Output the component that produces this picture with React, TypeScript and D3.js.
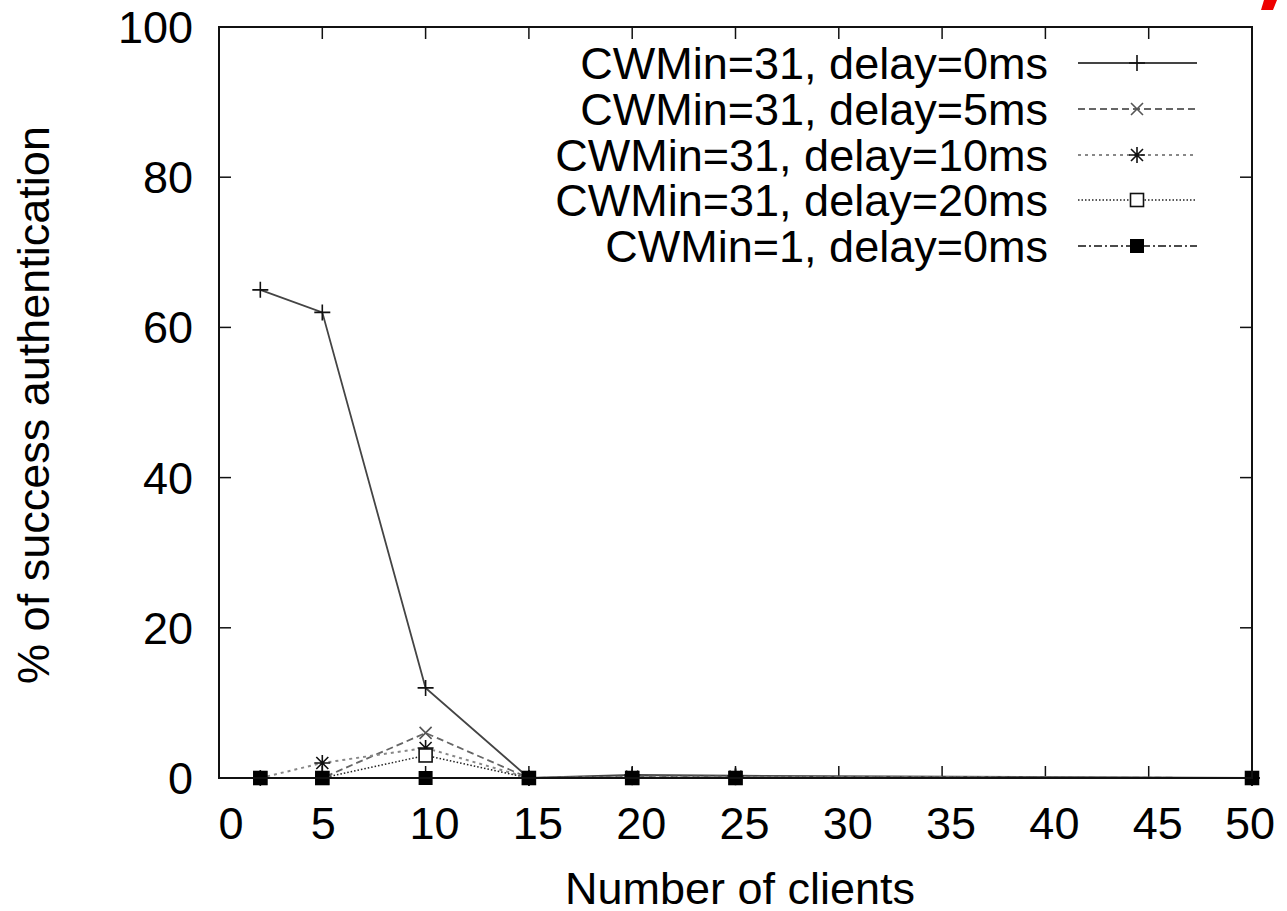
import React from "react";
import * as d3 from "d3";

const clients = [2, 5, 10, 15, 20, 25, 50];
const seriesNames = [
  "CWMin=31, delay=0ms",
  "CWMin=31, delay=5ms",
  "CWMin=31, delay=10ms",
  "CWMin=31, delay=20ms",
  "CWMin=1, delay=0ms",
];
const s1 = [65, 62, 12, 0, 0.4, 0.3, 0];
const s2 = [0, 0, 6, 0, 0.2, 0.2, 0];
const s3 = [0, 2, 4, 0, 0.1, 0.1, 0];
const s4 = [0, 0, 3, 0, 0, 0, 0];
const s5 = [0, 0, 0, 0, 0, 0, 0];
const xTicks = [0, 5, 10, 15, 20, 25, 30, 35, 40, 45, 50];
const yTicks = [0, 20, 40, 60, 80, 100];

const W = 1287, H = 911;
const L = 219, R = 1252, T = 27, B = 778;

type Style = { color: string; dash: string; width: number; marker: string };
const styles: Style[] = [
  { color: "#444", dash: "none", width: 1.8, marker: "plus" },
  { color: "#666", dash: "7,4", width: 1.8, marker: "cross" },
  { color: "#888", dash: "3,4", width: 2, marker: "star" },
  { color: "#222", dash: "1.5,2", width: 1.5, marker: "box" },
  { color: "#111", dash: "8,3,2,3", width: 1.5, marker: "fbox" },
];

function Marker({ x, y, type }: { x: number; y: number; type: string }) {
  const s = 8;
  const st = { stroke: "#111", strokeWidth: 1.6, fill: "none" };
  if (type === "plus")
    return <path d={`M${x - s},${y}H${x + s}M${x},${y - s}V${y + s}`} {...st} />;
  if (type === "cross")
    return <path d={`M${x - 6},${y - 6}L${x + 6},${y + 6}M${x - 6},${y + 6}L${x + 6},${y - 6}`} {...st} stroke="#555" />;
  if (type === "star")
    return (
      <path
        d={`M${x - s},${y}H${x + s}M${x},${y - s}V${y + s}M${x - 6},${y - 6}L${x + 6},${y + 6}M${x - 6},${y + 6}L${x + 6},${y - 6}`}
        {...st}
      />
    );
  if (type === "box")
    return <rect x={x - 6.5} y={y - 6.5} width={13} height={13} fill="#fff" stroke="#111" strokeWidth={1.6} />;
  return <rect x={x - 7} y={y - 7} width={14} height={14} fill="#000" />;
}

const xLabelShift: Record<number, number> = { 0: 12, 5: 1, 50: -2 };

export default function App() {
  const x = d3.scaleLinear().domain([0, 50]).range([L, R]);
  const y = d3.scaleLinear().domain([0, 100]).range([B, T]);
  const data = [s1, s2, s3, s4, s5];
  const line = d3
    .line<number>()
    .x((_, i) => x(clients[i]))
    .y((d) => y(d));
  const font = "'Liberation Sans', Arial, sans-serif";
  const tl = 12;
  const legY = [63, 109, 155, 200, 246];
  const fs = 45;
  return (
    <svg width={W} height={H} style={{ position: "absolute", left: 0, top: 0, background: "#fff" }} fontFamily={font}>
      <rect width={W} height={H} fill="#fff" />
      {xTicks.map((t) => (
        <g key={"x" + t}>
          <line x1={x(t)} x2={x(t)} y1={B} y2={B - tl} stroke="#111" strokeWidth={1.5} />
          <line x1={x(t)} x2={x(t)} y1={T} y2={T + tl} stroke="#111" strokeWidth={1.5} />
          <text x={x(t) + (xLabelShift[t] ?? 9)} y={839} fontSize={fs} textAnchor="middle">
            {t}
          </text>
        </g>
      ))}
      {yTicks.map((t) => (
        <g key={"y" + t}>
          <line x1={L} x2={L + tl} y1={y(t)} y2={y(t)} stroke="#111" strokeWidth={1.5} />
          <line x1={R} x2={R - tl} y1={y(t)} y2={y(t)} stroke="#111" strokeWidth={1.5} />
          <text x={193} y={y(t) + 16} fontSize={fs} textAnchor="end">
            {t}
          </text>
        </g>
      ))}
      {data.map((d, i) => (
        <path key={"l" + i} d={line(d) || ""} fill="none" stroke={styles[i].color} strokeWidth={styles[i].width} strokeDasharray={styles[i].dash} />
      ))}
      {data.map((d, i) =>
        d.map((v, j) => <Marker key={`m${i}-${j}`} x={x(clients[j])} y={y(v)} type={styles[i].marker} />)
      )}
      <rect x={L} y={T} width={R - L} height={B - T} fill="none" stroke="#111" strokeWidth={2} />
      {seriesNames.map((n, i) => (
        <g key={"lg" + i}>
          <text x={1048} y={legY[i] + 16} fontSize={fs} textAnchor="end">
            {n}
          </text>
          <line x1={1078} x2={1197} y1={legY[i]} y2={legY[i]} stroke={styles[i].color} strokeWidth={styles[i].width} strokeDasharray={styles[i].dash} />
          <Marker x={1137} y={legY[i]} type={styles[i].marker} />
        </g>
      ))}
      <text x={740} y={904} fontSize={fs} textAnchor="middle">
        Number of clients
      </text>
      <text transform={`translate(49,405) rotate(-90)`} fontSize={fs} textAnchor="middle">
        % of success authentication
      </text>
      <path d="M1264,0H1277L1273,10H1261Z" fill="#e00" />
    </svg>
  );
}
